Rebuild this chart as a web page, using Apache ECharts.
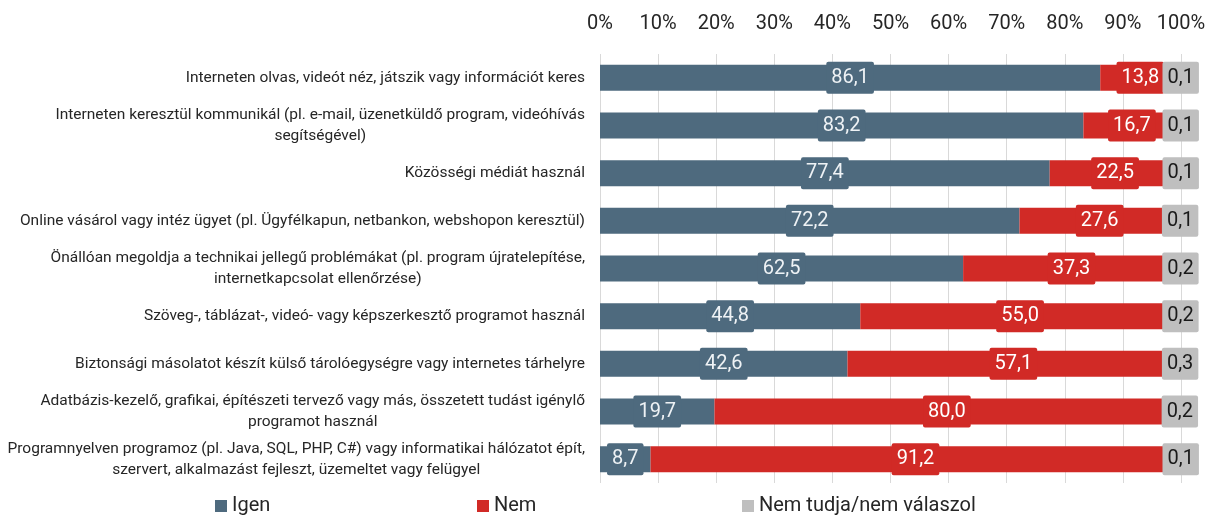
<!DOCTYPE html>
<html>
<head>
<meta charset="utf-8">
<script src="https://cdn.jsdelivr.net/npm/echarts@6/dist/echarts.min.js"></script>
<style>
  html, body { margin: 0; padding: 0; background: #fff; }
  #chart { width: 1214px; height: 518px; }
</style>
</head>
<body>
<div id="chart"></div>
<script>
// kategóriák (felülről lefelé)
var categories = [
  'Interneten olvas, videót néz, játszik vagy információt keres',
  'Interneten keresztül kommunikál (pl. e-mail, üzenetküldő program, videóhívás\nsegítségével)',
  'Közösségi médiát használ',
  'Online vásárol vagy intéz ügyet (pl. Ügyfélkapun, netbankon, webshopon keresztül)',
  'Önállóan megoldja a technikai jellegű problémákat (pl. program újratelepítése,\ninternetkapcsolat ellenőrzése)',
  'Szöveg-, táblázat-, videó- vagy képszerkesztő programot használ',
  'Biztonsági másolatot készít külső tárolóegységre vagy internetes tárhelyre',
  'Adatbázis-kezelő, grafikai, építészeti tervező vagy más, összetett tudást igénylő\nprogramot használ',
  'Programnyelven programoz (pl. Java, SQL, PHP, C#) vagy informatikai hálózatot épít,\nszervert, alkalmazást fejleszt, üzemeltet vagy felügyel'
]
var igen = [86.1, 83.2, 77.4, 72.2, 62.5, 44.8, 42.6, 19.7, 8.7]
var nem = [13.8, 16.7, 22.5, 27.6, 37.3, 55.0, 57.1, 80.0, 91.2]
var nemTudja = [0.1, 0.1, 0.1, 0.1, 0.2, 0.2, 0.3, 0.2, 0.1]

var FONT = 'Roboto, "Noto Sans", sans-serif'
var colors = { igen: '#4e6a7e', nem: '#d12a26', nt: '#bfbfbf' }

function fmt(p) {
  return p.value.toFixed(1).replace('.', ',')
}

// címke háttérdobozzal, mint az eredetin
function barLabel(bg, color) {
  return {
    show: true,
    position: 'inside',
    formatter: fmt,
    fontFamily: FONT,
    fontSize: 20,
    lineHeight: 22,
    color: color,
    backgroundColor: bg,
    padding: [5, 5, 5, 5],
    borderRadius: 2
  }
}

function legendAt(name, left) {
  return {
    data: [name],
    left: left,
    top: 496,
    padding: 0,
    icon: 'rect',
    itemWidth: 12,
    itemHeight: 12,
    textStyle: { fontFamily: FONT, fontSize: 20, color: '#262626' }
  }
}

var chart = echarts.init(document.getElementById('chart'))
var option = {
  animation: false,
  legend: [
    legendAt('Igen', 215),
    legendAt('Nem', 477),
    legendAt('Nem tudja/nem válaszol', 742)
  ],
  grid: {
    left: 600,
    right: 33,
    top: 54,
    bottom: 35,
    containLabel: false,
    outerBoundsMode: 'none'
  },
  xAxis: {
    type: 'value',
    position: 'top',
    min: 0,
    max: 100,
    interval: 10,
    axisLine: { show: false },
    axisTick: { show: false },
    axisLabel: {
      formatter: '{value}%',
      fontFamily: FONT,
      fontSize: 20,
      color: '#262626',
      margin: 20
    },
    splitLine: { show: true, lineStyle: { color: '#d9d9d9', width: 1 } }
  },
  yAxis: {
    type: 'category',
    inverse: true,
    data: categories,
    axisLine: { show: false },
    axisTick: { show: false },
    axisLabel: {
      interval: 0,
      margin: 15,
      formatter: function (v) {
        return v.split('\n').map(function (l) { return '{c|' + l + '}' }).join('\n')
      },
      rich: {
        c: {
          align: 'center',
          fontFamily: FONT,
          fontSize: 15.5,
          lineHeight: 21,
          color: '#262626'
        }
      }
    }
  },
  series: [
    {
      name: 'Igen',
      type: 'bar',
      stack: 'total',
      barWidth: 26,
      itemStyle: { color: colors.igen },
      label: barLabel(colors.igen, '#eef2f5'),
      data: igen
    },
    {
      name: 'Nem',
      type: 'bar',
      stack: 'total',
      barWidth: 26,
      itemStyle: { color: colors.nem },
      label: barLabel(colors.nem, '#ffffff'),
      data: nem
    },
    {
      name: 'Nem tudja/nem válaszol',
      type: 'bar',
      stack: 'total',
      barWidth: 26,
      itemStyle: { color: colors.nt },
      label: barLabel(colors.nt, '#1a1a1a'),
      data: nemTudja
    }
  ]
}
chart.setOption(option)
</script>
</body>
</html>
